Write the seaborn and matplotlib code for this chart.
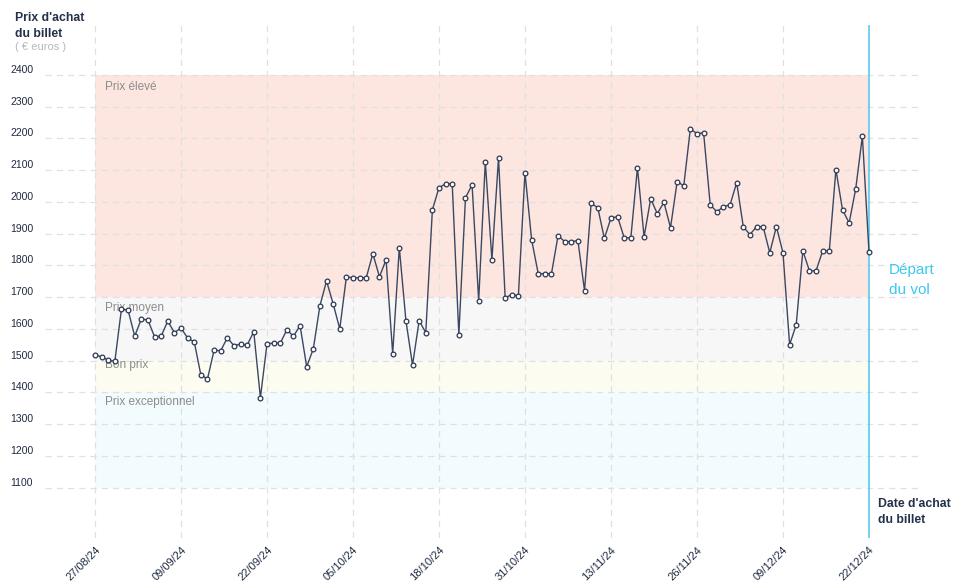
import numpy as np
import pandas as pd
import matplotlib
matplotlib.use("Agg")
import matplotlib.pyplot as plt
import seaborn as sns

# prix du billet, un point par jour du 27/08/24 au 22/12/24
prices = [
    1518, 1512, 1501, 1498, 1663, 1659, 1577, 1631, 1628, 1575,
    1577, 1625, 1588, 1603, 1571, 1559, 1455, 1442, 1533, 1531,
    1572, 1547, 1552, 1549, 1591, 1383, 1553, 1555, 1555, 1597,
    1577, 1610, 1481, 1537, 1673, 1751, 1679, 1600, 1764, 1761,
    1761, 1761, 1837, 1764, 1818, 1522, 1856, 1626, 1486, 1626,
    1588, 1975, 2045, 2057, 2057, 1581, 2013, 2054, 1689, 2127,
    1818, 2139, 1698, 1708, 1704, 2092, 1881, 1774, 1774, 1774,
    1894, 1875, 1875, 1878, 1720, 1996, 1982, 1885, 1950, 1953,
    1887, 1887, 2108, 1890, 2010, 1963, 1999, 1919, 2064, 2051,
    2231, 2215, 2218, 1991, 1969, 1985, 1991, 2061, 1922, 1897,
    1922, 1922, 1840, 1922, 1840, 1550, 1613, 1846, 1783, 1783,
    1846, 1846, 2102, 1975, 1934, 2042, 2207, 1843,
]
start_date = "2024-08-27"
tick_step = 13  # un label tous les 13 jours

bands = [  # (bas, haut, couleur, libellé, y du libellé)
    (1700, 2400, "#fde6e0", "Prix élevé", 2362),
    (1500, 1700, "#f7f7f7", "Prix moyen", 1665),
    (1400, 1500, "#fcfcf1", "Bon prix", 1486),
    (1100, 1400, "#f2fbfe", "Prix exceptionnel", 1369),
]
y_ticks = list(range(1100, 2500, 100))

dates = pd.date_range(start_date, periods=len(prices), freq="D")
df = pd.DataFrame({"date": dates, "prix": prices})

sns.set_style("white")
plt.rcParams["font.family"] = ["Liberation Sans", "DejaVu Sans"]

W, H = 958, 585
fig = plt.figure(figsize=(W / 100, H / 100), dpi=100)
ax = fig.add_axes([45 / W, (H - 538) / H, (918 - 45) / W, (538 - 25) / H])

day = pd.Timedelta(days=1)
ax.set_xlim(dates[0] - 7.56 * day, dates[-1] + 7.41 * day)
ax.set_ylim(941, 2557.6)

for lo, hi, col, lab, ly in bands:
    ax.fill_between([dates[0], dates[-1]], lo, hi, color=col, lw=0, zorder=0)
    ax.text(dates[0] + 1.5 * day, ly, lab, color="#8c8c8c", fontsize=8.5,
            va="center", ha="left", zorder=1)

grid_kw = dict(color="#e0e0e0", lw=0.9, dashes=(5, 4), zorder=0.5)
for v in y_ticks:
    ax.axhline(v, **grid_kw)
tick_dates = dates[::tick_step]
for d in tick_dates[:-1]:
    ax.axvline(d, **grid_kw)
ax.axvline(dates[-1], color="#4cc6ec", lw=1.1, zorder=1)

sns.lineplot(data=df, x="date", y="prix", ax=ax, color="#3b4862", lw=1,
             marker="o", markersize=3.4, markerfacecolor="white",
             markeredgecolor="#2b3750", markeredgewidth=0.9, zorder=3)

ax.set_xlabel("")
ax.set_ylabel("")
for s in ax.spines.values():
    s.set_visible(False)

ax.set_yticks(y_ticks)
ax.set_yticklabels([str(v) for v in y_ticks])
ax.tick_params(axis="y", length=0, pad=25.2, labelsize=7.5, labelcolor="#1e2a40")
for t in ax.get_yticklabels():
    t.set_horizontalalignment("left")
    t.set_verticalalignment("bottom")

ax.set_xticks(tick_dates)
ax.set_xticklabels([d.strftime("%d/%m/%y") for d in tick_dates], rotation=45,
                   ha="right", rotation_mode="anchor")
ax.tick_params(axis="x", length=0, pad=5, labelsize=8, labelcolor="#1e2a40")
for t in ax.get_xticklabels():
    t.set_x(t.get_position()[0])

dark = "#24314a"
fig.text(15 / W, 1 - 12 / H, "Prix d'achat\ndu billet", fontsize=8.8,
         fontweight="bold", color=dark, va="top", ha="left", linespacing=1.4)
fig.text(15 / W, 1 - 47 / H, "( € euros )", fontsize=8, color="#b8b8b8",
         va="center", ha="left")
fig.text(878 / W, 1 - 498 / H, "Date d'achat\ndu billet", fontsize=8.8,
         fontweight="bold", color=dark, va="top", ha="left", linespacing=1.4)
fig.text(889 / W, 1 - 280 / H, "Départ\ndu vol", fontsize=11,
         color="#3cc8f0", va="center", ha="left", linespacing=1.5)

fig.savefig("out.png", dpi=100)
